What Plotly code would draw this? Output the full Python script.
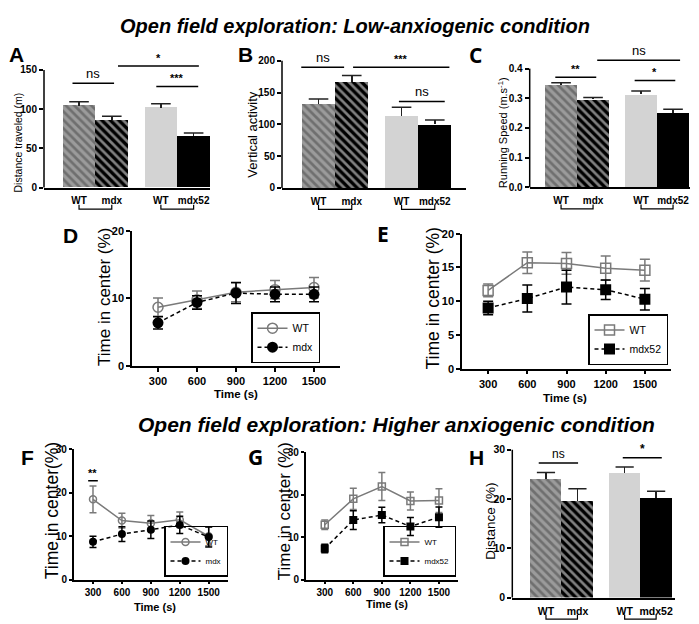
import plotly.graph_objects as go

W, H = 699, 624

# ---------------- data ----------------
BAR_LABELS_MDX = ['WT', 'mdx', 'WT', 'mdx52']
A_vals = [104.5, 86.5, 102.0, 66.0]
A_err = [5.0, 4.5, 5.0, 3.5]
B_vals = [132.0, 167.0, 113.0, 100.0]
B_err = [8.0, 10.0, 14.0, 7.0]
C_vals = [0.344, 0.296, 0.313, 0.251]
C_err = [0.008, 0.007, 0.012, 0.012]
H_vals = [24.1, 19.6, 25.3, 20.3]
H_err = [1.3, 2.5, 1.2, 1.3]

TIME = [300, 600, 900, 1200, 1500]
D_wt = [8.7, 9.8, 10.9, 11.3, 11.6]
D_wt_err = [1.35, 1.3, 1.4, 1.35, 1.5]
D_mdx = [6.4, 9.4, 10.8, 10.6, 10.6]
D_mdx_err = [0.9, 1.0, 1.55, 1.1, 1.1]
E_wt = [11.6, 15.7, 15.6, 14.9, 14.6]
E_wt_err = [0.95, 1.6, 1.6, 1.8, 1.6]
E_mdx52 = [9.0, 10.4, 12.1, 11.7, 10.3]
E_mdx52_err = [1.0, 2.0, 2.5, 1.45, 1.6]
F_wt = [18.5, 13.6, 13.0, 13.8, 10.0]
F_wt_err = [3.1, 1.7, 1.8, 1.8, 2.2]
F_mdx = [8.7, 10.5, 11.5, 12.6, 9.8]
F_mdx_err = [1.3, 1.7, 2.0, 2.0, 2.3]
G_wt = [12.9, 19.0, 21.9, 18.5, 18.6]
G_wt_err = [1.1, 2.5, 3.3, 2.1, 2.8]
G_mdx52 = [7.3, 14.0, 15.2, 12.5, 14.7]
G_mdx52_err = [1.0, 2.2, 1.8, 2.1, 2.4]

TITLE_TOP = 'Open field exploration: Low-anxiogenic condition'
TITLE_BOTTOM = 'Open field exploration: Higher anxiogenic condition'

# ---------------- styling ----------------
FONT = 'Liberation Sans, Arial, sans-serif'
NARROW = 'Liberation Sans Narrow, Arial Narrow, Liberation Sans, sans-serif'
CAL = 'Open Sans, Liberation Sans, sans-serif'
GREY_LINE = '#7a7a7a'
POS = [0, 1, 2.5, 3.5]

fig = go.Figure()
geom = {}


def ids(i):
    s = '' if i == 1 else str(i)
    return 'x' + s, 'y' + s, 'xaxis' + s, 'yaxis' + s


def xp(i, v):
    g = geom[i]
    return (g['x0'] + (v - g['xr'][0]) / (g['xr'][1] - g['xr'][0]) * (g['x1'] - g['x0'])) / W


def setup(i, x0, x1, xr, zero_px, top_px, yr, yticks, xtickvals, xticktext,
          tickfont, bar, ytickformat=None, ticklen=4):
    xa, ya, xn, yn = ids(i)
    geom[i] = dict(x0=x0, x1=x1, xr=xr, zero=zero_px, top=top_px, yr=yr)
    xd = dict(domain=[x0 / W, x1 / W], range=xr, anchor=ya, showline=True,
              linecolor='black', linewidth=1.5, showgrid=False, zeroline=False,
              tickvals=xtickvals, ticktext=xticktext, tickfont=tickfont,
              tickangle=0, fixedrange=True)
    if bar:
        xd.update(ticks='', ticklabelstandoff=3)
    else:
        xd.update(ticks='outside', ticklen=ticklen, tickwidth=1.5, tickcolor='black')
    yd = dict(domain=[1 - zero_px / H, 1 - top_px / H], range=yr, anchor=xa,
              showline=not bar, linecolor='black', linewidth=1.5, showgrid=False,
              zeroline=False, tickvals=yticks, ticks='outside', ticklen=ticklen,
              tickwidth=1.5, tickcolor='black', tickfont=tickfont, fixedrange=True)
    if ytickformat:
        yd['tickformat'] = ytickformat
    fig.update_layout(**{xn: xd, yn: yd})


def bar_panel(i, vals, errs, x0, x1, xr, zero_px, tmax_px, tmax, rtop, yticks,
              tickfont, ytickformat=None, cap=14):
    scale = (zero_px - tmax_px) / tmax
    top_px = zero_px - rtop * scale
    setup(i, x0, x1, xr, zero_px, top_px, [0, rtop], yticks, POS, BAR_LABELS_MDX,
          tickfont, True, ytickformat)
    xa, ya, _, _ = ids(i)
    fig.add_trace(go.Bar(
        x=POS, y=vals, width=1, xaxis=xa, yaxis=ya, showlegend=False,
        marker=dict(color=['#9b9b9b', '#000000', '#d3d3d3', '#000000'],
                    line=dict(width=0),
                    pattern=dict(shape=['\\', '\\', '', ''],
                                 fgcolor=['#ffffff', '#ffffff', '#d3d3d3', '#000000'],
                                 bgcolor=['#9b9b9b', '#000000', '#d3d3d3', '#000000'],
                                 size=6, solidity=0.45)),
        error_y=dict(type='data', symmetric=False, array=errs,
                     arrayminus=[0] * len(vals), width=0, thickness=1.5,
                     color='#222222')))
    fig.add_trace(go.Scatter(
        x=POS, y=[v + e for v, e in zip(vals, errs)], mode='markers',
        xaxis=xa, yaxis=ya, showlegend=False, hoverinfo='skip',
        marker=dict(symbol='line-ew', size=cap,
                    line=dict(width=1.5, color='#222222'))))
    # y axis line ending at the top tick
    fig.add_shape(type='line', xref='paper', yref='paper', x0=x0 / W, x1=x0 / W,
                  y0=1 - zero_px / H, y1=1 - tmax_px / H,
                  line=dict(color='black', width=1.5))
    # brackets under the labels
    for a, b in [(0, 1), (2, 3)]:
        xa0, xb0 = xp(i, POS[a]), xp(i, POS[b])
        yb = 1 - (zero_px + 22) / H
        yt = 1 - (zero_px + 17.5) / H
        fig.add_shape(type='path', xref='paper', yref='paper',
                      path=f'M {xa0},{yt} L {xa0},{yb} L {xb0},{yb} L {xb0},{yt}',
                      line=dict(color='black', width=1.2))


def sig(i, xa0, xb0, yv, text, size, font=FONT, bold=False):
    xa, ya, _, _ = ids(i)
    fig.add_shape(type='line', xref=xa, yref=ya, x0=xa0, x1=xb0, y0=yv, y1=yv,
                  line=dict(color='black', width=1.5))
    fig.add_annotation(xref=xa, yref=ya, x=(xa0 + xb0) / 2, y=yv, text=text,
                       showarrow=False, yanchor='bottom', yshift=0,
                       font=dict(family=font, size=size, color='black',
                                 weight='bold' if bold else 'normal'))


def line_panel(i, x0, x1, zero_px, top_px, yr, yticks, tickfont, wt, wt_err, mut,
               mut_err, mut_name, sym, msize, capw, legname, ticklen=4):
    setup(i, x0, x1, [100, 1700], zero_px, top_px, yr, yticks, TIME,
          [str(t) for t in TIME], tickfont, False, ticklen=ticklen)
    xa, ya, _, _ = ids(i)
    fig.add_trace(go.Scatter(
        x=TIME, y=wt, mode='lines+markers', name='WT', xaxis=xa, yaxis=ya,
        legend=legname, line=dict(color=GREY_LINE, width=1.5),
        marker=dict(symbol=sym + '-open', size=msize, color=GREY_LINE,
                    line=dict(width=1.5, color=GREY_LINE)),
        error_y=dict(type='data', array=wt_err, width=capw, thickness=1.5,
                     color=GREY_LINE)))
    fig.add_trace(go.Scatter(
        x=TIME, y=mut, mode='lines+markers', name=mut_name, xaxis=xa, yaxis=ya,
        legend=legname, line=dict(color='black', width=1.5, dash='4px,3px'),
        marker=dict(symbol=sym, size=msize + 1, color='black'),
        error_y=dict(type='data', array=mut_err, width=capw, thickness=1.5,
                     color='black')))


BOLD10 = dict(family=FONT, size=10, color='black', weight='bold')
BOLD11 = dict(family=FONT, size=11, color='black', weight='bold')
NARROW10 = dict(family=NARROW, size=10, color='black', weight='bold')

# A
bar_panel(1, A_vals, A_err, 36, 202, [-1.07, 4.0], 177, 57, 150, 165,
          [0, 50, 100, 150], BOLD10)
sig(1, -0.2, 1.07, 133, 'ns', 13)
sig(1, 1.19, 3.66, 155, '*', 11, bold=True)
sig(1, 2.36, 3.64, 129, '***', 11, bold=True)
# B
bar_panel(2, B_vals, B_err, 274, 458, [-1.10, 4.44], 177.3, 47.7, 200, 205,
          [0, 50, 100, 150, 200], BOLD10)
sig(2, -0.52, 0.77, 190, 'ns', 13)
sig(2, 1.04, 3.94, 190, '***', 11, bold=True)
sig(2, 2.42, 3.80, 136, 'ns', 13)
# C
bar_panel(3, C_vals, C_err, 521.7, 682, [-0.98, 4.03], 176.7, 55.7, 0.4, 0.44,
          [0, 0.1, 0.2, 0.3, 0.4], BOLD10, ytickformat='.1f')
sig(3, -0.18, 1.10, 0.371, '**', 11, bold=True)
sig(3, 1.13, 3.72, 0.428, 'ns', 13)
sig(3, 2.30, 3.57, 0.36, '*', 11, bold=True)
# H
bar_panel(8, H_vals, H_err, 504.3, 667, [-1.07, 4.10], 595, 444.3, 30, 31,
          [0, 10, 20, 30], dict(NARROW10, size=10.5), cap=13)
sig(8, -0.23, 1.02, 27.3, 'ns', 12, font=NARROW)
sig(8, 2.44, 3.68, 28.4, '*', 12, bold=True)

# D, E, F, G
line_panel(4, 124, 332, 359, 221, [0, 20], [0, 10, 20], BOLD11, D_wt, D_wt_err,
           D_mdx, D_mdx_err, 'mdx', 'circle', 10, 5, 'legend')
line_panel(5, 454, 663, 361.7, 224, [0, 20], [0, 5, 10, 15, 20], BOLD11, E_wt,
           E_wt_err, E_mdx52, E_mdx52_err, 'mdx52', 'square', 10, 5, 'legend2')
line_panel(6, 65.7, 220, 576.7, 444, [0, 30], [0, 10, 20, 30], NARROW10, F_wt,
           F_wt_err, F_mdx, F_mdx_err, 'mdx', 'circle', 7, 3.5, 'legend3', ticklen=3)
line_panel(7, 297.7, 450, 576.7, 446.7, [0, 30], [0, 10, 20, 30], NARROW10, G_wt,
           G_wt_err, G_mdx52, G_mdx52_err, 'mdx52', 'square', 7, 3.5, 'legend4',
           ticklen=3)
# significance in F
sig(6, 250, 350, 22.8, '**', 11, bold=True)

# legends
def leg(x, y, size, family=FONT, xanchor='left', yanchor='bottom', bg='white'):
    return dict(x=x / W, y=1 - y / H, xanchor=xanchor, yanchor=yanchor,
                bordercolor='black', borderwidth=1.5, bgcolor=bg,
                font=dict(family=family, size=size, color='black'),
                itemwidth=30, tracegroupgap=0)

fig.update_layout(legend=leg(243, 356, 10.5), legend2=leg(660, 358, 10.5, xanchor='right'),
                  legend3=leg(220, 574, 8, NARROW, xanchor='right', bg='rgba(255,255,255,0)'),
                  legend4=leg(448, 574, 8, NARROW, xanchor='right', bg='rgba(255,255,255,0)'))

# text annotations
def txt(x, y, text, size, family=FONT, bold=False, italic=False, angle=0):
    fig.add_annotation(xref='paper', yref='paper', x=x / W, y=1 - y / H,
                       text=text, showarrow=False, xanchor='center',
                       yanchor='middle', textangle=angle,
                       font=dict(family=family, size=size, color='black',
                                 weight='bold' if bold else 'normal',
                                 style='italic' if italic else 'normal'))

txt(347, 12, TITLE_TOP, 20, bold=True, italic=True)
txt(388, 419, TITLE_BOTTOM, 21, bold=True, italic=True)
for lx, ly, lt, fam in [(8, 41, 'A', FONT), (238, 41, 'B', FONT), (467, 42, 'C', CAL),
                        (62, 226, 'D', FONT), (375, 224, 'E', CAL),
                        (19, 452, 'F', FONT), (247, 452, 'G', CAL),
                        (468, 452, 'H', FONT)]:
    txt(lx, ly, lt, 21, family=fam, bold=True)

txt(10, 131, 'Distance traveled (m)', 10.5, angle=-90)
txt(245, 123, 'Vertical activity', 13, angle=-90)
txt(495, 121.5, 'Running Speed (m.s<sup>-1</sup>)', 11, angle=-90)
txt(96.5, 289, 'Time in center (%)', 17, angle=-90)
txt(425, 290, 'Time in center (%)', 17.5, angle=-90)
txt(44, 507, 'Time in center(%)', 17.5, angle=-90)
txt(276, 507, 'Time in center (%)', 17, angle=-90)
txt(481.7, 517, 'Distance (%)', 13.5, angle=-90)
txt(228, 387, 'Time (s)', 11.5, bold=True)
txt(557, 392, 'Time (s)', 11.5, bold=True)
txt(146.5, 605, 'Time (s)', 11, family=NARROW, bold=True)
txt(379, 602, 'Time (s)', 11, family=NARROW, bold=True)

fig.update_layout(width=W, height=H, margin=dict(l=0, r=0, t=0, b=0),
                  paper_bgcolor='white', plot_bgcolor='white', bargap=0)

fig.write_html('out.html')
